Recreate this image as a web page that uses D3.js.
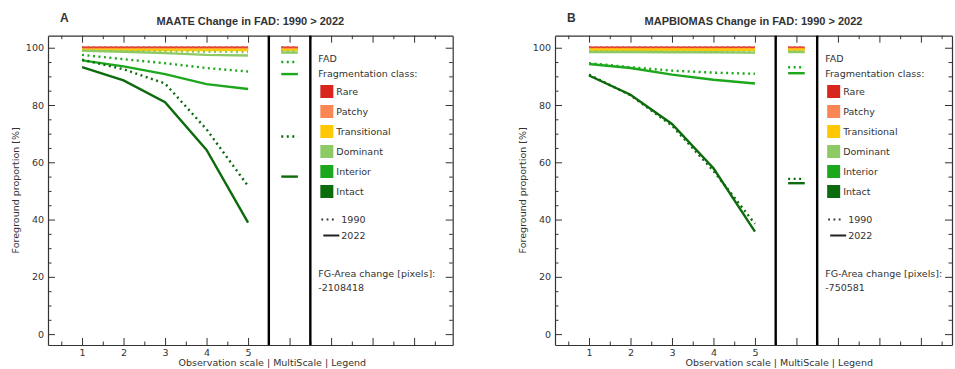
<!DOCTYPE html>
<html>
<head>
<meta charset="utf-8">
<script src="https://cdn.jsdelivr.net/npm/d3@7"></script>
<style>
  body { margin: 0; background: #fff; }
  text { font-family: "DejaVu Sans", sans-serif; fill: #333; }
</style>
</head>
<body>
<script>
'use strict';

// x values of the observation scales and the y tick values
const obsScales = [1, 2, 3, 4, 5];
const xTickLabels = ["1", "2", "3", "4", "5"];
const yTicks = [0, 20, 40, 60, 80, 100];
const classes = ["Rare", "Patchy", "Transitional", "Dominant", "Interior", "Intact"];
const years = ["1990", "2022"];

// MAATE: one row per class, one value per observation scale
const maate1990 = [
  [100, 100, 100, 100, 100],
  [99.6, 99.6, 99.6, 99.6, 99.6],
  [99.2, 99.2, 99.2, 99.2, 99.2],
  [98.9, 98.8, 98.7, 98.6, 98.5],
  [97.5, 96.0, 94.6, 92.9, 91.7],
  [95.8, 92.5, 87.5, 71.5, 51.7]
];
const maate2022 = [
  [100, 100, 100, 100, 100],
  [99.6, 99.6, 99.6, 99.6, 99.6],
  [99.2, 99.2, 99.2, 99.2, 99.2],
  [99.0, 98.6, 98.1, 97.5, 97.3],
  [95.6, 93.5, 90.8, 87.3, 85.6],
  [93.2, 88.6, 81.0, 64.3, 38.9]
];
// MultiScale value per class
const maateMulti1990 = [100, 99.6, 99.2, 98.8, 95.0, 69.0];
const maateMulti2022 = [100, 99.6, 99.2, 98.3, 90.8, 55.0];
const maateAreaChange = "-2108418";

// MAPBIOMAS
const mapb1990 = [
  [100, 100, 100, 100, 100],
  [99.6, 99.6, 99.6, 99.6, 99.6],
  [99.3, 99.3, 99.3, 99.3, 99.3],
  [98.7, 98.6, 98.6, 98.5, 98.5],
  [94.6, 93.2, 92.0, 91.3, 90.9],
  [90.6, 83.4, 72.8, 57.0, 38.5]
];
const mapb2022 = [
  [100, 100, 100, 100, 100],
  [99.6, 99.6, 99.6, 99.6, 99.6],
  [99.3, 99.3, 99.3, 99.3, 99.3],
  [98.5, 98.5, 98.4, 98.4, 98.3],
  [94.3, 92.9, 90.6, 88.8, 87.5],
  [90.3, 83.6, 73.4, 57.9, 35.8]
];
const mapbMulti1990 = [100, 99.6, 99.3, 98.7, 93.2, 54.2];
const mapbMulti2022 = [100, 99.6, 99.3, 98.5, 91.1, 52.7];
const mapbAreaChange = "-750581";

const classColors = ["#d8261f", "#fa8655", "#ffc805", "#8dc965", "#1ca71c", "#0c6b0c"];
const dotDash = "2,3.5";

const svg = d3.select("body").append("svg")
  .attr("width", 955)
  .attr("height", 369);

const panels = [
  {letter: "A", title: "MAATE Change in FAD: 1990 > 2022",
   left: 48, right: 452.7, xDomain: [0.18, 9.93],
   v1990: maate1990, v2022: maate2022,
   m1990: maateMulti1990, m2022: maateMulti2022, area: maateAreaChange},
  {letter: "B", title: "MAPBIOMAS Change in FAD: 1990 > 2022",
   left: 555, right: 952, xDomain: [0.18, 9.75],
   v1990: mapb1990, v2022: mapb2022,
   m1990: mapbMulti1990, m2022: mapbMulti2022, area: mapbAreaChange}
];

const plotTop = 35.7, plotBottom = 345;

panels.forEach(drawPanel);

function drawPanel(p) {
  let x = d3.scaleLinear().domain(p.xDomain).range([p.left, p.right]);
  let y = d3.scaleLinear().domain([-3.8, 104.2]).range([plotBottom, plotTop]);
  let g = svg.append("g");

  // tick positions
  let xMajor = d3.range(1, Math.floor(p.xDomain[1]) + 1);
  let xMinor = d3.range(0.5, p.xDomain[1], 1);
  let yMinor = d3.range(5, 101, 5).filter((v) => v % 20 !== 0);

  // axes with inward ticks
  let axes = [
    [d3.axisBottom, "translate(0," + plotBottom + ")", x, xMajor, xMinor, true],
    [d3.axisTop, "translate(0," + plotTop + ")", x, xMajor, xMinor, false],
    [d3.axisLeft, "translate(" + p.left + ",0)", y, yTicks, yMinor, true],
    [d3.axisRight, "translate(" + p.right + ",0)", y, yTicks, yMinor, false]
  ];
  axes.forEach((a) => {
    let major = a[0](a[2]).tickValues(a[3]).tickSizeInner(-7).tickSizeOuter(0).tickPadding(4);
    if (a[0] === d3.axisBottom) {
      major.tickFormat((d) => d <= 5 ? xTickLabels[d - 1] : "");
    } else if (!a[5]) {
      major.tickFormat("");
    }
    let ga = g.append("g").attr("transform", a[1]).call(major);
    ga.select(".domain").attr("stroke", "#333").attr("stroke-width", 1.2);
    ga.selectAll(".tick line").attr("stroke", "#333");
    ga.selectAll("text").style("font-size", "9.5px").attr("fill", "#333");

    let minor = a[0](a[2]).tickValues(a[4]).tickSizeInner(-3.5).tickSizeOuter(0).tickFormat("");
    let gm = g.append("g").attr("transform", a[1]).call(minor);
    gm.select(".domain").remove();
    gm.selectAll(".tick line").attr("stroke", "#333");
  });

  // separators between observation scales, MultiScale and legend
  [5.5, 6.5].forEach((v) => {
    g.append("line")
      .attr("x1", x(v)).attr("x2", x(v))
      .attr("y1", plotTop).attr("y2", plotBottom)
      .attr("stroke", "#000")
      .attr("stroke-width", 2.4);
  });

  let line = d3.line()
    .x((d) => x(d[0]))
    .y((d) => y(d[1]));

  // lines per class: 2022 solid, 1990 dotted on top
  classes.forEach((c, i) => {
    g.append("path")
      .datum(obsScales.map((s, j) => [s, p.v2022[i][j]]))
      .attr("d", line)
      .attr("fill", "none")
      .attr("stroke", classColors[i])
      .attr("stroke-width", 2.4);
    g.append("path")
      .datum(obsScales.map((s, j) => [s, p.v1990[i][j]]))
      .attr("d", line)
      .attr("fill", "none")
      .attr("stroke", classColors[i])
      .attr("stroke-width", 2.4)
      .attr("stroke-dasharray", dotDash);

    // MultiScale segments
    g.append("path")
      .datum([[5.8, p.m2022[i]], [6.2, p.m2022[i]]])
      .attr("d", line)
      .attr("stroke", classColors[i])
      .attr("stroke-width", 2.4);
    g.append("path")
      .datum([[5.8, p.m1990[i]], [6.2, p.m1990[i]]])
      .attr("d", line)
      .attr("stroke", classColors[i])
      .attr("stroke-width", 2.4)
      .attr("stroke-dasharray", dotDash);
  });

  // legend
  let lx = x(6.5);
  let legend = g.append("g").style("font-size", "9.5px");
  legend.append("text").attr("x", lx + 8).attr("y", 62).text("FAD");
  legend.append("text").attr("x", lx + 8).attr("y", 76.5).text("Fragmentation class:");
  classes.forEach((c, i) => {
    legend.append("rect")
      .attr("x", lx + 10).attr("y", 85 + i * 20)
      .attr("width", 13).attr("height", 13)
      .attr("fill", classColors[i]);
    legend.append("text")
      .attr("x", lx + 26).attr("y", 95 + i * 20)
      .text(c);
  });
  legend.append("line")
    .attr("x1", lx + 11).attr("x2", lx + 26)
    .attr("y1", 219.5).attr("y2", 219.5)
    .attr("stroke", "#333").attr("stroke-width", 1.8)
    .attr("stroke-dasharray", "1.8,3.5");
  legend.append("text").attr("x", lx + 31).attr("y", 223).text(years[0]);
  legend.append("line")
    .attr("x1", lx + 13).attr("x2", lx + 29)
    .attr("y1", 235.5).attr("y2", 235.5)
    .attr("stroke", "#222").attr("stroke-width", 2);
  legend.append("text").attr("x", lx + 31).attr("y", 239).text(years[1]);
  legend.append("text").attr("x", lx + 8).attr("y", 276.5).text("FG-Area change [pixels]:");
  legend.append("text").attr("x", lx + 8).attr("y", 291).text(p.area);

  // titles and axis labels
  let cx = (p.left + p.right) / 2;
  g.append("text")
    .attr("x", cx).attr("y", 24.5)
    .attr("text-anchor", "middle")
    .style("font-family", "'Liberation Sans', Arial, sans-serif")
    .style("font-weight", "bold")
    .style("font-size", "11px")
    .attr("fill", "#111")
    .text(p.title);
  g.append("text")
    .attr("x", p.left + 12).attr("y", 21.8)
    .style("font-family", "'Liberation Sans', Arial, sans-serif")
    .style("font-weight", "bold")
    .style("font-size", "12px")
    .attr("fill", "#555")
    .text(p.letter);
  // x label sits centred near the scale/MultiScale separator
  g.append("text")
    .attr("x", x(5.5) + 3.5).attr("y", 366)
    .attr("text-anchor", "middle")
    .style("font-size", "9.5px")
    .text("Observation scale | MultiScale | Legend");
  g.append("text")
    .attr("transform", "translate(" + (p.left - 29) + "," + ((plotTop + plotBottom) / 2) + ")rotate(-90)")
    .attr("text-anchor", "middle")
    .style("font-size", "9.5px")
    .text("Foreground proportion [%]");
}
</script>
</body>
</html>
